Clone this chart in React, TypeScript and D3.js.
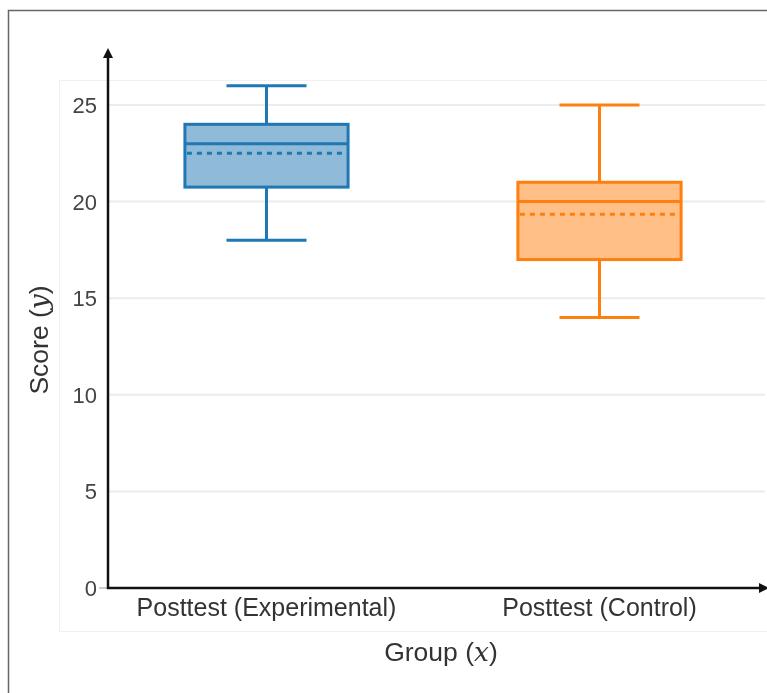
import { useEffect, useRef } from "react";
import * as d3 from "d3";

const groups = ["Posttest (Experimental)", "Posttest (Control)"];
const mins = [18, 14];
const q1s = [20.75, 17];
const medians = [23, 20];
const means = [22.5, 19.35];
const q3s = [24, 21];
const maxs = [26, 25];
const colors = ["#1f77b4", "#ff7f0e"];
const fills = ["#8fbbd9", "#ffbf86"];
const yTicks = [0, 5, 10, 15, 20, 25];

export default function App() {
  const ref = useRef<SVGSVGElement>(null);

  useEffect(() => {
    const width = 767;
    const height = 693;
    const left = 108;
    const right = 765;
    const bottom = 588;

    const svg = d3.select(ref.current);
    svg.selectAll("*").remove();
    svg.attr("width", width).attr("height", height)
      .attr("style", "font-family: 'Liberation Sans', Arial, sans-serif;");

    const data = groups.map((g, i) => ({
      group: g, min: mins[i], q1: q1s[i], median: medians[i], mean: means[i],
      q3: q3s[i], max: maxs[i], color: colors[i], fill: fills[i]
    }));

    const x = d3.scaleBand().domain(groups).range([100, 766]).padding(0);
    const y = d3.scaleLinear().domain([0, 25]).range([bottom, 105]);

    // frames
    svg.append("rect").attr("x", 8.5).attr("y", 10.5).attr("width", 770).attr("height", 700)
      .attr("fill", "none").attr("stroke", "#666").attr("stroke-width", 1.5);
    svg.append("rect").attr("x", 59.5).attr("y", 80.5).attr("width", 720).attr("height", 551)
      .attr("fill", "none").attr("stroke", "#f0f0f0").attr("stroke-width", 1);

    // grid
    svg.append("g").selectAll("line").data(yTicks.filter(t => t > 0)).join("line")
      .attr("x1", left).attr("x2", right)
      .attr("y1", d => y(d)).attr("y2", d => y(d))
      .attr("stroke", "#ececec").attr("stroke-width", 2);

    // y tick labels
    svg.append("g").selectAll("text").data(yTicks).join("text")
      .attr("x", 97).attr("y", d => y(d)).attr("dy", "0.36em")
      .attr("text-anchor", "end").attr("font-size", 22).attr("fill", "#444")
      .text(d => d);
    svg.append("line").attr("x1", 99).attr("x2", left).attr("y1", bottom).attr("y2", bottom)
      .attr("stroke", "#999").attr("stroke-width", 1);

    // boxes
    const g = svg.append("g").selectAll("g").data(data).join("g")
      .attr("transform", d => `translate(${x(d.group)! + x.bandwidth() / 2},0)`);
    const bw = x.bandwidth() * 0.49;
    const cap = 80;
    g.append("line").attr("x1", 0).attr("x2", 0).attr("y1", d => y(d.max)).attr("y2", d => y(d.q3))
      .attr("stroke", d => d.color).attr("stroke-width", 3);
    g.append("line").attr("x1", 0).attr("x2", 0).attr("y1", d => y(d.q1)).attr("y2", d => y(d.min))
      .attr("stroke", d => d.color).attr("stroke-width", 3);
    g.append("line").attr("x1", -cap / 2).attr("x2", cap / 2).attr("y1", d => y(d.max)).attr("y2", d => y(d.max))
      .attr("stroke", d => d.color).attr("stroke-width", 3);
    g.append("line").attr("x1", -cap / 2).attr("x2", cap / 2).attr("y1", d => y(d.min)).attr("y2", d => y(d.min))
      .attr("stroke", d => d.color).attr("stroke-width", 3);
    g.append("rect").attr("x", -bw / 2).attr("width", bw)
      .attr("y", d => y(d.q3)).attr("height", d => y(d.q1) - y(d.q3))
      .attr("fill", d => d.fill).attr("stroke", d => d.color).attr("stroke-width", 3);
    g.append("line").attr("x1", -bw / 2).attr("x2", bw / 2).attr("y1", d => y(d.median)).attr("y2", d => y(d.median))
      .attr("stroke", d => d.color).attr("stroke-width", 3);
    g.append("line").attr("x1", -bw / 2 + 2).attr("x2", bw / 2).attr("y1", d => y(d.mean)).attr("y2", d => y(d.mean))
      .attr("stroke", d => d.color).attr("stroke-width", 3).attr("stroke-dasharray", "5,5");

    // axes with arrows
    const defs = svg.append("defs");
    defs.append("marker").attr("id", "arrow").attr("viewBox", "0 0 10 10")
      .attr("refX", 5).attr("refY", 5).attr("markerWidth", 4).attr("markerHeight", 4)
      .attr("orient", "auto")
      .append("path").attr("d", "M0,0 L10,5 L0,10 z").attr("fill", "#111");
    svg.append("line").attr("x1", left).attr("x2", left).attr("y1", bottom + 1).attr("y2", 53)
      .attr("stroke", "#111").attr("stroke-width", 2.5).attr("marker-end", "url(#arrow)");
    svg.append("line").attr("x1", left - 1).attr("x2", 764).attr("y1", bottom).attr("y2", bottom)
      .attr("stroke", "#111").attr("stroke-width", 2.5).attr("marker-end", "url(#arrow)");

    // category labels
    svg.append("g").selectAll("text").data(groups).join("text")
      .attr("x", d => x(d)! + x.bandwidth() / 2).attr("y", 616)
      .attr("text-anchor", "middle").attr("font-size", 25).attr("fill", "#333")
      .text(d => d);

    // axis titles
    const xt = svg.append("text").attr("x", 441).attr("y", 661).attr("text-anchor", "middle")
      .attr("font-size", 26.5).attr("fill", "#333");
    xt.append("tspan").text("Group (");
    xt.append("tspan").attr("font-family", "'DejaVu Serif', 'Liberation Serif', serif").attr("font-style", "italic").text("x");
    xt.append("tspan").text(")");

    const yt = svg.append("text").attr("transform", "translate(48,340) rotate(-90)")
      .attr("text-anchor", "middle").attr("font-size", 26.5).attr("fill", "#333");
    yt.append("tspan").text("Score (");
    yt.append("tspan").attr("font-family", "'DejaVu Serif', 'Liberation Serif', serif").attr("font-style", "italic").text("y");
    yt.append("tspan").text(")");
  }, []);

  return (
    <div style={{ position: "fixed", left: 0, top: 0 }}>
      <svg ref={ref}></svg>
    </div>
  );
}
